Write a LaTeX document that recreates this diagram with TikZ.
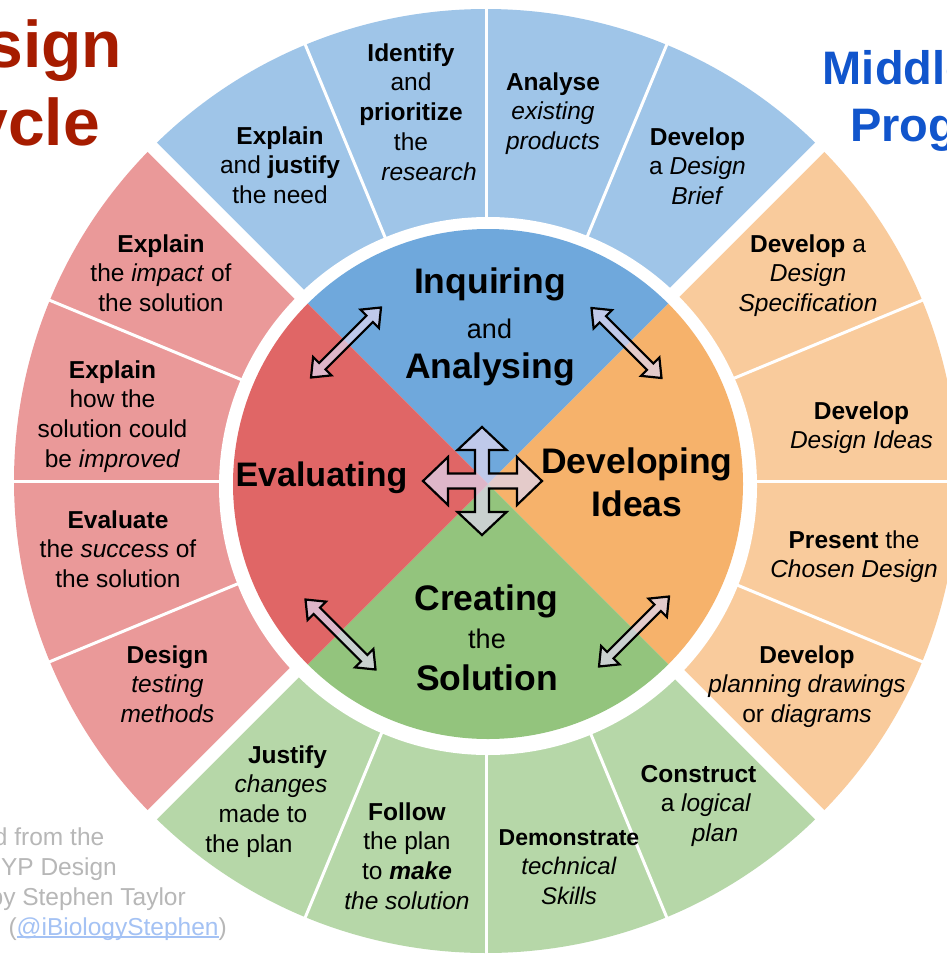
\documentclass[tikz,border=0pt]{standalone}
\usepackage{fontspec}
\setmainfont{Liberation Sans}
\usetikzlibrary{calc}
\definecolor{dblue}{HTML}{6FA8DC}
\definecolor{lblue}{HTML}{9FC5E8}
\definecolor{dred}{HTML}{E06666}
\definecolor{lred}{HTML}{EA9999}
\definecolor{dgreen}{HTML}{93C47D}
\definecolor{lgreen}{HTML}{B6D7A8}
\definecolor{dorange}{HTML}{F6B26B}
\definecolor{lorange}{HTML}{F9CB9C}
\definecolor{titlered}{HTML}{A61C00}
\definecolor{titleblue}{HTML}{1155CC}
\definecolor{credgrey}{HTML}{B7B7B7}
\definecolor{credlink}{HTML}{A4C2F4}
\definecolor{arrowfill}{RGB}{222,214,240}
\def\Rd{255}
\def\Ri{269}
\def\Ro{472}
\newcommand{\ringseg}[3]{\fill[#1] (C) -- ($(C)+(#2:\Ro)$) arc[start angle=#2,end angle=#3,radius=\Ro] -- cycle;}
\newcommand{\discseg}[3]{\fill[#1] (D) -- ($(D)+(#2:\Rd)$) arc[start angle=#2,end angle=#3,radius=\Rd] -- cycle;}
\newcommand{\dblarrow}[2]{\begin{scope}[shift={#1},rotate=#2]\draw[arr] (-49.5,0) -- (-33.5,13) -- (-33.5,4.5) -- (33.5,4.5) -- (33.5,13) -- (49.5,0) -- (33.5,-13) -- (33.5,-4.5) -- (-33.5,-4.5) -- (-33.5,-13) -- cycle;\end{scope}}
\newcommand{\fs}{\rule{0pt}{20pt}}
\newcommand{\ulk}[1]{\setbox0\hbox{#1}\rlap{\rule[-2.6pt]{\wd0}{1.3pt}}\box0}
\begin{document}
\begin{tikzpicture}[x=1pt,y=-1pt,
  arr/.style={draw=black,line width=2.2pt,fill=arrowfill,fill opacity=0.72,line join=miter},
  seg/.style={align=center,inner sep=0pt,anchor=north,text=black,font={\fontsize{24.5}{29.7}\selectfont}},
  big/.style={inner sep=0pt,anchor=base,text=black,font={\fontsize{35.5}{42}\selectfont\bfseries}},
  small/.style={inner sep=0pt,anchor=base,text=black,font={\fontsize{27}{32}\selectfont}},
  cred/.style={inner sep=0pt,anchor=base east,text=credgrey,font={\fontsize{24.5}{30}\selectfont}}]
\useasboundingbox (0,0) rectangle (946,955);
\fill[white] (0,0) rectangle (946,955);
\coordinate (C) at (486,481);
\coordinate (E) at (488,486);
\coordinate (D) at (488,484);
% outer ring
\ringseg{lblue}{225}{315}
\ringseg{lorange}{-45}{45}
\ringseg{lgreen}{45}{135}
\ringseg{lred}{135}{225}
\foreach \a in {0,22.5,67.5,90,112.5,157.5,180,202.5,247.5,270,292.5,337.5}
  \draw[white,line width=3pt] ($(C)+(\a:240)$) -- ($(C)+(\a:480)$);
\foreach \a in {45,135,225,315}
  \draw[white,line width=13pt] ($(C)+(\a:240)$) -- ($(C)+(\a:485)$);
\fill[white] (E) circle[radius=\Ri];
% inner disc
\discseg{dblue}{225}{315}
\discseg{dorange}{-45}{45}
\discseg{dgreen}{45}{135}
\discseg{dred}{135}{225}
% titles
\node[inner sep=0pt,anchor=base,text=titlered,font={\fontsize{66}{77}\selectfont\bfseries}] (t1) at (12,68) {Design};
\node[inner sep=0pt,anchor=base,text=titlered,font={\fontsize{66}{77}\selectfont\bfseries}] (t2) at (12,145) {Cycle};
\node[inner sep=0pt,anchor=base west,text=titleblue,font={\fontsize{47}{57}\selectfont\bfseries}] (m1) at (822.6,85) {Middle Years};
\node[inner sep=0pt,anchor=base west,text=titleblue,font={\fontsize{47}{57}\selectfont\bfseries}] (m2) at (850,142) {Programme};
% credit
\node[cred] (c1) at (104.5,845) {Adapted from the};
\node[cred] (c2) at (117,875) {MYP Design};
\node[cred] (c3) at (186,905) {Cycle by Stephen Taylor};
\node[cred] (c4) at (227,935) {(\textcolor{credlink}{\ulk{@iBiologyStephen}})};
% blue segments
\node[seg] (b1) at (280,124) {\fs\textbf{Explain}\\and \textbf{justify}\\the need};
\node[seg] (b2) at (411,41) {\fs\textbf{Identify}\\and\\\textbf{prioritize}\\the\\\hbox{\kern36pt\textit{research}}};
\node[seg] (b3) at (553,70) {\fs\textbf{Analyse}\\\textit{existing}\\\textit{products}};
\node[seg] (b4) at (697.5,125) {\fs\textbf{Develop}\\a \textit{Design}\\\textit{Brief}};
% orange segments
\node[seg] (o1) at (808,232) {\fs\textbf{Develop} a\\\textit{Design}\\\textit{Specification}};
\node[seg] (o2) at (861.5,399) {\fs\textbf{Develop}\\\textit{Design Ideas}};
\node[seg] (o3) at (854,528) {\fs\textbf{Present} the\\\textit{Chosen Design}};
\node[seg] (o4) at (807,643) {\fs\textbf{Develop}\\\textit{planning drawings}\\or \textit{diagrams}};
% green segments
\node[seg] (g1) at (698.5,762) {\fs\textbf{Construct}\\\hbox{\kern15pt a \textit{logical}}\\\hbox{\kern33pt\textit{plan}}};
\node[seg,font={\fontsize{24}{29.7}\selectfont}] (g2) at (569,825) {\fs\textbf{\fontsize{23}{29.7}\selectfont Demonstrate}\\\textit{technical}\\\textit{Skills}};
\node[seg] (g3) at (407,800) {\fs\textbf{Follow}\\the plan\\to \textbf{\textit{make}}\\\textit{the solution}};
\node[seg] (g4) at (287.5,743) {\fs\textbf{Justify}\\\hbox{\kern-13pt\textit{changes}}\\\hbox{\kern-49pt made to}\\\hbox{\kern-77pt the plan}};
% red segments
\node[seg] (r1) at (167.5,643) {\fs\textbf{Design}\\\textit{testing}\\\textit{methods}};
\node[seg] (r2) at (118,508) {\fs\textbf{Evaluate}\\the \textit{success} of\\the solution};
\node[seg] (r3) at (112.5,358) {\fs\textbf{Explain}\\how the\\solution could\\be \textit{improved}};
\node[seg] (r4) at (161,232) {\fs\textbf{Explain}\\the \textit{impact} of\\the solution};
% inner labels
\node[big] (inq) at (490,293) {Inquiring};
\node[small] (andl) at (489.5,338) {and};
\node[big] (anal) at (490,378) {Analysing};
\node[big,font={\fontsize{34}{40}\selectfont\bfseries}] (eval) at (321.5,486) {Evaluating};
\node[big] (dev) at (637,473) {Developing};
\node[big] (ideas) at (637,516) {Ideas};
\node[big] (crea) at (486.5,610) {Creating};
\node[small] (thel) at (487,648) {the};
\node[big] (sol) at (487,690) {Solution};
% arrows
\dblarrow{(346,342.5)}{45}
\dblarrow{(626.5,343)}{-45}
\dblarrow{(340.5,634.5)}{-45}
\dblarrow{(634,631.5)}{45}
\begin{scope}[shift={(482,481)}]
\draw[arr] (0,-54) -- (24.5,-31) -- (7,-31) -- (7,-7.5) -- (35,-7.5) -- (35,-24) -- (60,0) -- (35,24) -- (35,7.5) -- (7,7.5) -- (7,31) -- (24.5,31) -- (0,54) -- (-24.5,31) -- (-7,31) -- (-7,7.5) -- (-34,7.5) -- (-34,24) -- (-59,0) -- (-34,-24) -- (-34,-7.5) -- (-7,-7.5) -- (-7,-31) -- (-24.5,-31) -- cycle;
\end{scope}
\end{tikzpicture}
\end{document}
